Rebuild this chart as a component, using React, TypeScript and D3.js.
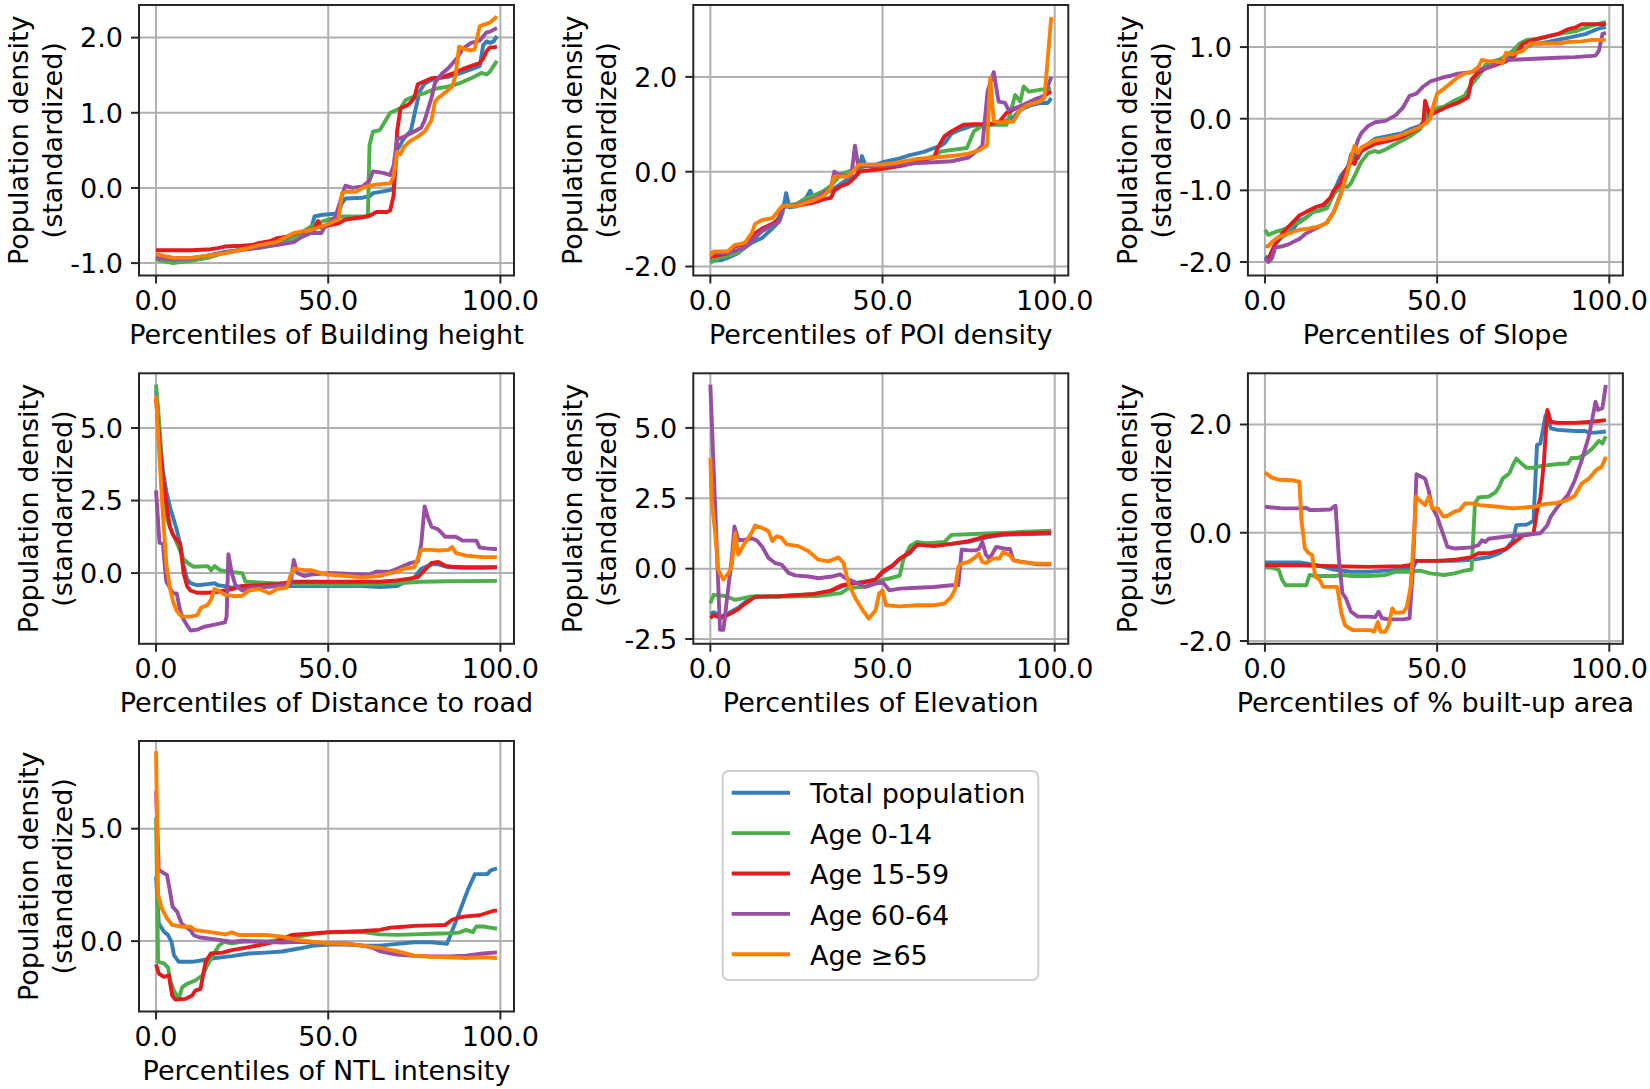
import { useEffect } from "react";
import * as d3 from "d3";

type Pt = [number, number];

const SERIES = ["Total population", "Age 0-14", "Age 15-59", "Age 60-64", "Age ≥65"];
const COLORS = ["#377eb8", "#4daf4a", "#e41a1c", "#984ea3", "#ff7f00"];
const X_TICKS = [0, 50, 100];

// Building height
const bhTotal: Pt[] = [[0,-0.93],[5,-0.96],[10,-0.94],[15,-0.9],[20,-0.85],[25,-0.82],[30,-0.78],[35,-0.72],[40,-0.65],[43,-0.6],[45,-0.55],[46,-0.38],[48,-0.36],[50,-0.35],[53,-0.34],[54,-0.2],[55,-0.14],[60,-0.13],[62,-0.11],[63,-0.07],[68,-0.03],[69,0.0],[70,0.5],[72,0.66],[74,0.76],[75,0.97],[76.5,1.28],[78,1.39],[81,1.46],[85,1.48],[88,1.52],[91,1.57],[94,1.62],[95,1.9],[96,1.95],[97,1.93],[98,1.95],[99,2.02]];
const bhAge014: Pt[] = [[0,-0.95],[5,-1.0],[10,-0.97],[15,-0.93],[20,-0.86],[25,-0.82],[30,-0.8],[35,-0.75],[38,-0.73],[40,-0.66],[45,-0.51],[48,-0.45],[50,-0.42],[54,-0.38],[61.5,-0.38],[62,0.57],[63,0.75],[65,0.77],[68,1.0],[71,1.06],[72.5,1.17],[75,1.22],[78,1.26],[81,1.32],[85,1.35],[88,1.39],[91.5,1.46],[94.5,1.53],[96,1.51],[97,1.55],[99,1.69]];
const bhAge1559: Pt[] = [[0,-0.83],[5,-0.83],[10,-0.83],[15,-0.82],[18,-0.8],[20,-0.78],[25,-0.77],[28,-0.76],[30,-0.73],[33,-0.71],[35,-0.67],[38,-0.65],[40,-0.61],[43,-0.58],[45,-0.55],[46,-0.55],[47,-0.44],[48,-0.53],[50,-0.5],[53,-0.47],[55,-0.42],[60,-0.39],[62,-0.37],[64,-0.32],[67,-0.32],[68,-0.3],[69,-0.1],[70,0.75],[71,1.06],[73,1.1],[74,1.14],[75,1.2],[76,1.38],[78,1.42],[80,1.46],[83,1.47],[86,1.52],[89,1.58],[92,1.63],[94,1.66],[95,1.72],[96,1.82],[97,1.87],[98,1.87],[99,1.88]];
const bhAge6064: Pt[] = [[0,-0.93],[5,-0.95],[10,-0.94],[15,-0.9],[20,-0.86],[30,-0.79],[35,-0.76],[40,-0.72],[42,-0.66],[45,-0.6],[48,-0.6],[49,-0.52],[50,-0.47],[52,-0.4],[54,-0.1],[55,0.03],[57,0.0],[60,0.02],[62,0.1],[63,0.22],[66,0.2],[68,0.17],[69,0.3],[70,0.65],[72,0.68],[75,0.75],[77,0.8],[78,0.9],[80,1.2],[81,1.4],[83,1.52],[85,1.6],[87.5,1.73],[89,1.85],[91.5,1.93],[94,1.96],[96,2.07],[97,2.08],[99,2.13]];
const bhAge65: Pt[] = [[0,-0.88],[5,-0.93],[10,-0.93],[15,-0.9],[20,-0.87],[25,-0.82],[30,-0.76],[35,-0.72],[38,-0.65],[40,-0.6],[45,-0.56],[50,-0.48],[53,-0.42],[54,-0.07],[55,-0.05],[58,-0.05],[60,0.0],[62,0.03],[65,0.05],[68,0.06],[69,0.15],[70,0.48],[71,0.45],[72,0.55],[74,0.63],[76,0.68],[78,0.75],[80,0.9],[81,1.15],[82,1.2],[84,1.27],[86,1.35],[87,1.5],[88,1.88],[89,1.86],[91,1.83],[92.5,1.84],[94,2.15],[95,2.17],[97,2.2],[99,2.28]];

// POI density
const poiTotal: Pt[] = [[0,-1.88],[3,-1.87],[5,-1.82],[8,-1.72],[10,-1.6],[12,-1.5],[15,-1.4],[18,-1.2],[20,-1.05],[21,-0.85],[22,-0.45],[23,-0.75],[25,-0.73],[27,-0.65],[29,-0.4],[30,-0.55],[33,-0.45],[35,-0.4],[38,-0.25],[40,-0.15],[42,-0.1],[43,-0.05],[44,0.33],[45,0.15],[48,0.15],[50,0.2],[55,0.28],[58,0.35],[62,0.42],[65,0.5],[67,0.55],[68,0.6],[70,0.8],[72,0.87],[74,0.92],[76,0.97],[78,0.98],[80,1.0],[82,1.0],[85,1.05],[88,1.15],[90,1.3],[93,1.4],[96,1.45],[98,1.45],[99,1.55]];
const poiAge014: Pt[] = [[0,-1.92],[3,-1.8],[5,-1.78],[8,-1.7],[10,-1.6],[13,-1.35],[15,-1.25],[18,-1.15],[20,-0.95],[21,-0.72],[25,-0.68],[28,-0.55],[30,-0.5],[33,-0.4],[35,-0.3],[38,-0.05],[40,0.0],[42,0.05],[45,0.12],[50,0.15],[55,0.18],[60,0.22],[65,0.33],[67,0.43],[74.5,0.5],[76.5,0.85],[78.5,0.95],[80.5,0.99],[86,0.99],[87,1.2],[88.5,1.62],[90,1.48],[91,1.8],[92.5,1.69],[96,1.73],[99,1.75]];
const poiAge1559: Pt[] = [[0,-1.8],[5,-1.72],[7,-1.58],[10,-1.52],[13,-1.3],[15,-1.2],[18,-1.1],[20,-1.0],[21,-0.72],[25,-0.72],[30,-0.65],[33,-0.58],[35,-0.55],[36,-0.4],[38,-0.3],[40,-0.25],[42,-0.12],[43,0.0],[45,0.02],[50,0.06],[55,0.12],[60,0.2],[65,0.3],[66,0.5],[68,0.75],[70,0.85],[73.5,0.99],[76.5,1.0],[81,1.0],[84,1.06],[86,1.24],[90,1.38],[94,1.48],[99,1.69]];
const poiAge6064: Pt[] = [[0,-1.71],[5,-1.72],[10,-1.6],[15,-1.25],[20,-1.05],[21,-0.75],[25,-0.7],[30,-0.58],[35,-0.35],[36,0.0],[37,-0.05],[40,-0.1],[41,-0.05],[42,0.55],[43,0.1],[45,0.12],[50,0.12],[55,0.15],[60,0.18],[65,0.2],[70,0.22],[75,0.3],[77.5,0.45],[79,0.55],[80.5,1.69],[82.3,2.1],[83.7,1.48],[85.6,1.45],[86.6,1.3],[90,1.38],[94,1.52],[97,1.6],[99,2.0]];
const poiAge65: Pt[] = [[0,-1.78],[1,-1.68],[5,-1.68],[7,-1.55],[10,-1.5],[12,-1.3],[13,-1.1],[15,-1.02],[18,-0.98],[20,-0.8],[21,-0.72],[25,-0.72],[30,-0.6],[33,-0.5],[35,-0.35],[36,-0.1],[40,-0.1],[42,0.05],[43,0.15],[50,0.15],[55,0.2],[60,0.27],[65,0.3],[70,0.33],[75,0.38],[78,0.45],[80.4,0.56],[81.3,1.99],[82.3,1.06],[84,1.04],[88,1.06],[90,1.3],[92,1.4],[95.5,1.48],[97,1.55],[98,2.4],[99,3.26]];

// Slope
const slTotal: Pt[] = [[0,-1.92],[1,-1.95],[2,-1.85],[3,-1.75],[5,-1.65],[8,-1.55],[10,-1.42],[12,-1.38],[14,-1.3],[16,-1.28],[18,-1.22],[20,-1.02],[22,-0.8],[24,-0.68],[25,-0.6],[26,-0.5],[27,-0.55],[28,-0.45],[30,-0.35],[32,-0.28],[35,-0.25],[38,-0.22],[40,-0.2],[42,-0.15],[45,-0.1],[46,-0.05],[48,0.08],[50,0.1],[52,0.15],[55,0.25],[58,0.3],[60,0.48],[62,0.6],[64,0.72],[65,0.78],[68,0.82],[70,0.85],[72,0.9],[75,0.98],[78,1.05],[80,1.05],[85,1.1],[90,1.15],[93,1.18],[95,1.22],[97,1.26],[99,1.28]];
const slAge014: Pt[] = [[0,-1.55],[1,-1.62],[3,-1.58],[5,-1.55],[7,-1.52],[8,-1.47],[10,-1.45],[12,-1.38],[14,-1.3],[16,-1.28],[18,-1.25],[20,-1.05],[22,-0.95],[24,-0.95],[25,-0.9],[26,-0.8],[28,-0.6],[30,-0.48],[32,-0.45],[33,-0.47],[35,-0.43],[38,-0.35],[40,-0.3],[42,-0.25],[45,-0.15],[46,-0.05],[47,0.1],[50,0.15],[52,0.17],[55,0.25],[58,0.32],[60,0.48],[62,0.6],[64,0.75],[66,0.8],[68,0.82],[70,0.88],[72,0.95],[74,1.05],[76,1.1],[80,1.12],[85,1.18],[90,1.22],[95,1.3],[99,1.35]];
const slAge1559: Pt[] = [[0,-1.95],[1,-1.97],[2,-1.85],[3,-1.75],[5,-1.6],[7,-1.5],[9,-1.4],[10,-1.35],[12,-1.3],[15,-1.23],[17,-1.2],[19,-1.1],[20,-1.0],[22,-0.9],[23,-0.75],[25,-0.6],[26,-0.63],[27,-0.5],[28,-0.45],[30,-0.4],[32,-0.35],[35,-0.32],[38,-0.28],[40,-0.25],[42,-0.2],[45,-0.12],[46,-0.05],[46.5,0.25],[47.5,0.1],[48,0.05],[50,0.1],[53,0.17],[56,0.22],[59,0.3],[60,0.55],[62,0.65],[64,0.7],[67,0.75],[70,0.8],[72,0.85],[75,1.05],[78,1.1],[82,1.15],[85,1.18],[88,1.25],[90,1.27],[92,1.32],[95,1.32],[99,1.32]];
const slAge6064: Pt[] = [[0,-1.95],[1,-2.0],[2,-1.95],[3,-1.8],[5,-1.78],[7,-1.75],[9,-1.7],[10,-1.68],[12,-1.6],[14,-1.55],[16,-1.5],[18,-1.45],[20,-1.3],[22,-1.05],[24,-0.7],[25,-0.5],[26,-0.45],[27,-0.3],[28,-0.2],[30,-0.1],[32,-0.05],[35,-0.03],[38,0.05],[40,0.15],[42,0.32],[44,0.35],[46,0.45],[48,0.52],[50,0.55],[52,0.58],[54,0.6],[56,0.63],[60,0.65],[62,0.68],[65,0.72],[68,0.8],[70,0.82],[75,0.83],[80,0.84],[85,0.85],[90,0.86],[96,0.88],[97,0.95],[98,1.18],[99,1.2]];
const slAge65: Pt[] = [[0,-1.78],[1,-1.78],[2,-1.72],[4,-1.65],[6,-1.62],[8,-1.58],[10,-1.55],[13,-1.53],[16,-1.5],[18,-1.45],[20,-1.3],[22,-1.05],[24,-0.75],[25,-0.55],[26,-0.38],[27,-0.48],[28,-0.4],[30,-0.35],[32,-0.3],[35,-0.28],[38,-0.25],[40,-0.22],[42,-0.18],[45,-0.12],[47,-0.05],[48,0.0],[49,0.2],[50,0.35],[52,0.42],[54,0.5],[56,0.58],[58,0.63],[60,0.65],[62,0.72],[63,0.82],[65,0.8],[67,0.8],[69,0.78],[70,0.92],[72,0.9],[75,0.95],[77,1.05],[80,1.05],[85,1.05],[88,1.07],[92,1.08],[95,1.1],[99,1.1]];

// Distance to road
const drTotal: Pt[] = [[0,6.3],[1,4.8],[2,3.5],[3,2.8],[4,2.3],[5,1.9],[6,1.5],[7,1.0],[8,0.3],[9,-0.2],[10,-0.35],[12,-0.42],[15,-0.38],[17,-0.35],[18,-0.42],[20,-0.45],[22,-0.5],[25,-0.45],[30,-0.4],[35,-0.45],[40,-0.45],[50,-0.45],[60,-0.45],[65,-0.48],[70,-0.45],[75,-0.15],[77,0.15],[80,0.3],[82,0.3],[85,0.2],[90,0.18],[95,0.18],[99,0.2]];
const drAge014: Pt[] = [[0,6.5],[1,5.05],[1.7,3.55],[3.3,1.83],[4.8,1.37],[6.3,0.97],[7.9,0.5],[9.4,0.33],[11,0.22],[15,0.24],[16,0.1],[17,0.24],[18.6,0.1],[21,0.05],[25,0.0],[26,-0.3],[31,-0.33],[40,-0.38],[50,-0.4],[60,-0.4],[70,-0.35],[77,-0.3],[85,-0.28],[99,-0.27]];
const drAge1559: Pt[] = [[0,6.0],[1,4.5],[2,3.3],[3,2.4],[4,1.6],[5,1.3],[6,1.15],[7,1.0],[8,0.0],[9,-0.45],[10,-0.6],[12,-0.68],[15,-0.68],[18,-0.65],[20,-0.6],[22,-0.55],[25,-0.45],[30,-0.42],[35,-0.38],[40,-0.3],[45,-0.3],[50,-0.3],[60,-0.3],[65,-0.3],[70,-0.25],[73,-0.2],[76,-0.15],[78,0.1],[80,0.35],[82,0.38],[84,0.25],[86,0.22],[90,0.2],[95,0.2],[99,0.2]];
const drAge6064: Pt[] = [[0,2.85],[1,1.05],[2,1.0],[2.5,0.3],[3,-0.3],[5,-0.7],[6,-0.7],[7,-1.3],[8,-1.6],[9,-1.8],[10,-1.98],[12,-1.95],[14,-1.85],[16,-1.8],[18,-1.75],[20,-1.7],[20.5,-1.5],[21,0.65],[22,0.0],[23,-0.4],[25,-0.6],[28,-0.5],[30,-0.5],[35,-0.45],[39,-0.4],[40,0.45],[41,0.0],[43,-0.1],[45,-0.05],[50,0.0],[55,-0.02],[60,-0.05],[62,-0.05],[64,0.05],[68,0.05],[70,0.15],[72,0.25],[74,0.35],[76,0.4],[77,1.0],[78,2.3],[79,1.9],[80,1.6],[82,1.5],[84,1.25],[87,1.25],[89,1.12],[93,1.12],[94,0.88],[96,0.85],[99,0.82]];
const drAge65: Pt[] = [[0,6.1],[1,4.0],[2,2.0],[3,0.3],[4,-0.5],[5,-1.0],[6,-1.3],[7,-1.45],[8,-1.5],[10,-1.5],[12,-1.45],[13,-1.2],[15,-1.1],[16,-0.9],[17,-0.55],[18,-0.6],[20,-0.75],[23,-0.8],[25,-0.78],[27,-0.6],[30,-0.55],[32,-0.65],[33,-0.7],[35,-0.55],[38,-0.5],[39,-0.1],[40,0.15],[43,0.1],[45,0.1],[48,0.0],[50,-0.05],[55,-0.1],[60,-0.15],[65,-0.1],[68,0.0],[70,0.05],[72,0.15],[75,0.2],[76,0.5],[77,0.8],[80,0.8],[82,0.78],[85,0.8],[86,0.9],[87,0.7],[90,0.6],[95,0.55],[99,0.55]];

// Elevation
const elTotal: Pt[] = [[0,-1.6],[1,-1.55],[3,-1.7],[5,-1.6],[8,-1.4],[10,-1.2],[13,-1.0],[20,-0.98],[30,-0.92],[35,-0.8],[38,-0.65],[40,-0.55],[45,-0.45],[48,-0.4],[50,-0.15],[53,0.1],[55,0.35],[58,0.55],[60,0.85],[62,0.9],[65,0.85],[70,0.88],[75,0.95],[80,1.1],[85,1.2],[90,1.22],[99,1.25]];
const elAge014: Pt[] = [[0,-1.23],[1,-0.93],[4.3,-0.97],[7.2,-1.11],[12,-0.99],[22,-0.99],[31,-0.97],[38,-0.87],[40,-0.7],[45,-0.64],[48,-0.47],[50,-0.4],[52,-0.35],[55,-0.25],[56,0.3],[58,0.8],[60,0.95],[63,0.9],[68,0.95],[70,1.2],[75,1.22],[80,1.25],[85,1.27],[90,1.3],[99,1.35]];
const elAge1559: Pt[] = [[0,-1.75],[1,-1.65],[3,-1.75],[5,-1.65],[8,-1.45],[10,-1.25],[13,-1.0],[20,-0.98],[30,-0.9],[35,-0.78],[38,-0.6],[40,-0.55],[45,-0.48],[48,-0.38],[50,-0.1],[53,0.12],[55,0.35],[58,0.6],[60,0.85],[65,0.8],[70,0.88],[75,0.98],[80,1.15],[85,1.22],[90,1.25],[99,1.28]];
const elAge6064: Pt[] = [[0,6.54],[1.4,2.2],[2.8,-2.17],[3.8,-2.17],[4.8,-1.11],[6.2,0.32],[7,1.5],[8.1,1.02],[10,1.02],[12,1.08],[13.5,1.0],[15,0.79],[16.9,0.38],[18.8,0.2],[20.7,0.14],[22.7,-0.15],[24.6,-0.24],[28.5,-0.28],[31.4,-0.34],[35.3,-0.28],[37.7,-0.2],[39.2,-0.34],[42,-0.48],[45,-0.65],[48,-0.53],[50,-0.47],[52,-0.77],[55,-0.71],[60,-0.68],[65,-0.65],[70,-0.59],[72,-0.59],[73,0.68],[75,0.65],[77,0.65],[78,0.7],[79,0.95],[80,0.5],[81,0.35],[82,0.55],[83,0.77],[86,0.7],[87,0.7],[88,0.3],[90,0.25],[95,0.15],[99,0.15]];
const elAge65: Pt[] = [[0,3.93],[0.4,2.45],[1.4,1.27],[2.3,-0.04],[3.8,-0.39],[5.3,-0.15],[6.2,0.08],[7.2,1.27],[8.1,0.5],[10,0.91],[12,1.27],[13,1.53],[15,1.45],[16.9,1.33],[18,0.98],[19.3,1.15],[20.7,1.09],[22.2,0.86],[25.6,0.8],[28.5,0.62],[31.4,0.32],[34.3,0.26],[37.2,0.4],[38.7,0.2],[40.1,-0.51],[42.1,-1.05],[44.5,-1.52],[46,-1.78],[48,-1.48],[49,-0.89],[50,-0.77],[51,-1.3],[55,-1.34],[60,-1.3],[65,-1.3],[68,-1.24],[70,-1.0],[71,-0.75],[72,0.06],[73,0.18],[75,0.24],[77,0.41],[78,0.53],[79,0.24],[80,0.2],[82,0.36],[84,0.36],[85,0.59],[87,0.47],[88,0.3],[90,0.24],[95,0.18],[99,0.18]];

// % built-up area
const buTotal: Pt[] = [[0,-0.55],[10,-0.55],[15,-0.6],[20,-0.68],[25,-0.72],[30,-0.72],[35,-0.7],[40,-0.68],[43,-0.65],[44,-0.52],[50,-0.52],[55,-0.52],[60,-0.5],[62,-0.48],[65,-0.45],[68,-0.38],[70,-0.3],[72,-0.15],[73,0.14],[76,0.15],[78,0.22],[79,1.62],[80,1.65],[81.5,2.17],[82,2.15],[83,1.93],[85,1.9],[90,1.88],[93,1.88],[94,1.85],[96,1.85],[99,1.87]];
const buAge014: Pt[] = [[0,-0.64],[2,-0.65],[4,-0.68],[5,-0.87],[6,-0.97],[10,-0.97],[12,-0.97],[13,-0.78],[15,-0.8],[20,-0.8],[23,-0.78],[25,-0.8],[30,-0.8],[35,-0.78],[38,-0.72],[42,-0.72],[45,-0.7],[48,-0.75],[52,-0.78],[55,-0.75],[58,-0.7],[60,-0.68],[61,0.54],[62,0.65],[65,0.67],[67,0.75],[68,0.85],[69,1.0],[71,1.1],[72,1.25],[73,1.37],[75,1.25],[76,1.2],[78,1.2],[80,1.23],[85,1.27],[88,1.28],[89,1.38],[91,1.38],[93,1.45],[95,1.55],[97,1.7],[98,1.65],[99,1.78]];
const buAge1559: Pt[] = [[0,-0.6],[10,-0.6],[20,-0.62],[30,-0.63],[40,-0.62],[42,-0.6],[44,-0.52],[50,-0.52],[55,-0.5],[60,-0.45],[62,-0.38],[65,-0.38],[70,-0.3],[72,-0.2],[75,-0.05],[78,-0.02],[79,0.4],[80,0.65],[81,1.3],[82,2.27],[83,2.05],[85,2.03],[90,2.03],[95,2.05],[99,2.08]];
const buAge6064: Pt[] = [[0,0.48],[5,0.45],[10,0.45],[12,0.46],[13,0.42],[15,0.42],[19,0.43],[20,0.48],[20.5,0.5],[21.5,-0.5],[22.5,-1.12],[23.5,-1.21],[25,-1.46],[27,-1.55],[30,-1.55],[32,-1.56],[33,-1.46],[34,-1.58],[36,-1.6],[40,-1.6],[42,-1.58],[43,-0.63],[44,1.08],[45,1.05],[46.5,1.0],[47.5,0.79],[48.5,0.48],[50,0.3],[51,0.11],[52,-0.07],[53,-0.26],[55,-0.29],[60,-0.27],[62,-0.23],[63,-0.14],[64,-0.17],[65,-0.11],[70,-0.07],[75,-0.04],[80,-0.01],[82,0.14],[83,0.3],[85,0.48],[88,0.7],[90,0.97],[92,1.34],[94,1.77],[95,2.08],[96,2.42],[96.7,2.27],[98,2.3],[99,2.73]];
const buAge65: Pt[] = [[0,1.11],[2,1.02],[4,0.98],[8,0.97],[10,0.94],[10.6,0.23],[11.6,-0.29],[12.7,-0.38],[13.7,-0.41],[14.6,-0.81],[15.9,-0.87],[16.9,-1.0],[21,-1.0],[22.2,-1.49],[23.3,-1.71],[25.4,-1.8],[30.7,-1.8],[31.7,-1.83],[32.8,-1.65],[33.6,-1.83],[34.9,-1.83],[35.9,-1.71],[37,-1.4],[38,-1.48],[40.2,-1.47],[41.2,-1.37],[42.3,-1.0],[43.3,-0.01],[43.9,0.67],[44.9,0.6],[46.5,0.51],[47.6,0.67],[48.6,0.45],[50.2,0.45],[51.8,0.3],[52.9,0.31],[55,0.39],[56.6,0.42],[58.1,0.54],[60.3,0.54],[62.4,0.51],[67.7,0.48],[71.9,0.45],[78.2,0.48],[81.4,0.53],[84.6,0.55],[87.7,0.6],[89.9,0.68],[92,0.91],[94.1,1.0],[96.2,1.16],[97.8,1.22],[99,1.4]];

// NTL intensity
const ntlTotal: Pt[] = [[0,2.87],[0.8,0.79],[2.3,0.42],[3.5,0.27],[4.5,-0.03],[5.2,-0.62],[6.6,-0.92],[10.5,-0.92],[13.4,-0.85],[17.2,-0.75],[22,-0.67],[26.9,-0.55],[31.8,-0.51],[36.6,-0.46],[41.5,-0.33],[45.3,-0.21],[50,-0.15],[55,-0.15],[60,-0.2],[65,-0.2],[70,-0.12],[75,-0.05],[80,-0.05],[84.5,-0.12],[87.5,1.04],[90.6,2.3],[92.6,2.98],[96.2,2.98],[97.2,3.15],[99,3.23]];
const ntlAge014: Pt[] = [[0,5.5],[0.6,-0.92],[2.3,-0.99],[3.5,-1.18],[4.2,-1.8],[5.2,-2.2],[6.6,-2.57],[7.6,-2.05],[9,-1.9],[11.4,-1.75],[13.4,-1.53],[14.9,-1.08],[16.8,-0.56],[18.3,-0.19],[19.7,-0.03],[22,-0.1],[25,-0.03],[31.8,-0.02],[37.6,0.1],[41.5,0.2],[45.3,0.31],[50,0.38],[55,0.4],[60,0.4],[65,0.3],[70,0.28],[75,0.3],[80,0.33],[85,0.35],[88,0.38],[90,0.5],[92,0.4],[93,0.65],[95,0.65],[97,0.6],[99,0.55]];
const ntlAge1559: Pt[] = [[0,-1.04],[0.8,-1.44],[2.3,-1.59],[3.7,-1.52],[4.7,-2.42],[5.6,-2.6],[8.5,-2.57],[10.5,-2.42],[11.4,-2.2],[12.9,-2.12],[14.4,-0.92],[15.9,-0.55],[19.3,-0.51],[22,-0.4],[25.8,-0.3],[29.7,-0.19],[34.5,-0.03],[39.4,0.27],[45.3,0.34],[50,0.4],[55,0.42],[60,0.45],[65,0.5],[68,0.6],[70,0.62],[75,0.68],[80,0.7],[84,0.72],[86,0.95],[88,1.05],[90,1.1],[94,1.15],[96,1.25],[98,1.35],[99,1.35]];
const ntlAge6064: Pt[] = [[0,6.67],[0.8,3.17],[2.3,3.02],[3.2,2.94],[3.9,2.35],[4.8,1.53],[6.1,1.31],[7.4,0.79],[8.5,0.64],[10,0.49],[10.9,0.27],[12.4,0.17],[17.2,0.08],[22,-0.03],[25,0.02],[31.8,-0.03],[36.6,-0.06],[41.5,-0.03],[50,-0.1],[55,-0.1],[60,-0.2],[63,-0.3],[65,-0.45],[70,-0.6],[75,-0.65],[80,-0.68],[85,-0.68],[90,-0.65],[95,-0.55],[99,-0.5]];
const ntlAge65: Pt[] = [[0,8.45],[0.6,2.05],[1.7,1.45],[3.2,1.01],[4.7,0.72],[7.6,0.64],[10,0.64],[11.4,0.49],[15.3,0.41],[20.2,0.3],[22,0.39],[24,0.27],[31.8,0.27],[36.6,0.2],[41.5,0.04],[45.3,-0.03],[50,-0.1],[55,-0.12],[60,-0.2],[65,-0.3],[70,-0.45],[75,-0.65],[80,-0.7],[85,-0.72],[90,-0.75],[95,-0.72],[99,-0.75]];

const LABELS = [
  "Building height",
  "POI density",
  "Slope",
  "Distance to road",
  "Elevation",
  "% built-up area",
  "NTL intensity",
];
const Y_TICKS = [
  [-1, 0, 1, 2],
  [-2, 0, 2],
  [-2, -1, 0, 1],
  [0, 2.5, 5],
  [-2.5, 0, 2.5, 5],
  [-2, 0, 2],
  [0, 5],
];
const Y_LIMITS: Pt[] = [
  [-1.165, 2.434],
  [-2.189, 3.516],
  [-2.188, 1.587],
  [-2.438, 6.886],
  [-2.67, 6.94],
  [-2.052, 2.946],
  [-3.13, 8.9],
];
const DATA: Pt[][][] = [
  [bhTotal, bhAge014, bhAge1559, bhAge6064, bhAge65],
  [poiTotal, poiAge014, poiAge1559, poiAge6064, poiAge65],
  [slTotal, slAge014, slAge1559, slAge6064, slAge65],
  [drTotal, drAge014, drAge1559, drAge6064, drAge65],
  [elTotal, elAge014, elAge1559, elAge6064, elAge65],
  [buTotal, buAge014, buAge1559, buAge6064, buAge65],
  [ntlTotal, ntlAge014, ntlAge1559, ntlAge6064, ntlAge65],
];

const W = 1650;
const H = 1089;
const FONT = "'DejaVu Sans', sans-serif";
const FS = 27;
const LW = 3.9;
const COL_LEFT = [139, 693.3, 1247.9];
const ROW_TOP = [5, 373.3, 741];
const AX_W = 375;
const AX_H = 270.5;

// matplotlib-style labels use a plain hyphen for negatives
const fmt = (v: number) => d3.format(".1f")(v).replace("\u2212", "-");
const charW: Record<string, number> = { "-": 0.361, ".": 0.318 };
const textW = (s: string) =>
  s.split("").reduce((a, c) => a + (charW[c] ?? 0.636), 0) * FS;

function Panel({ idx }: { idx: number }) {
  const left = COL_LEFT[idx % 3];
  const top = ROW_TOP[Math.floor(idx / 3)];
  const right = left + AX_W;
  const bottom = top + AX_H;
  const x = d3.scaleLinear().domain([-4.95, 103.95]).range([left, right]);
  const y = d3.scaleLinear().domain(Y_LIMITS[idx]).range([bottom, top]);
  const line = d3
    .line<Pt>()
    .x((d) => x(d[0]))
    .y((d) => y(d[1]));
  const ticks = Y_TICKS[idx];
  const maxW = d3.max(ticks, (t) => textW(fmt(t))) ?? 0;
  const lab2 = left - 16 - maxW - 8.3;
  const lab1 = lab2 - 34;
  const cy = (top + bottom) / 2;
  const clipId = `clip-${idx}`;

  return (
    <g>
      <clipPath id={clipId}>
        <rect x={left} y={top} width={AX_W} height={AX_H} />
      </clipPath>
      {X_TICKS.map((t) => (
        <line key={`gx${t}`} x1={x(t)} x2={x(t)} y1={top} y2={bottom} stroke="#b0b0b0" strokeWidth={2} />
      ))}
      {ticks.map((t) => (
        <line key={`gy${t}`} x1={left} x2={right} y1={y(t)} y2={y(t)} stroke="#b0b0b0" strokeWidth={2} />
      ))}
      <g clipPath={`url(#${clipId})`}>
        {DATA[idx].map((s, i) => (
          <path
            key={i}
            d={line(s) ?? ""}
            fill="none"
            stroke={COLORS[i]}
            strokeWidth={LW}
            strokeLinejoin="round"
          />
        ))}
      </g>
      <rect x={left} y={top} width={AX_W} height={AX_H} fill="none" stroke="#262626" strokeWidth={2} />
      {X_TICKS.map((t) => (
        <g key={`tx${t}`}>
          <line x1={x(t)} x2={x(t)} y1={bottom} y2={bottom + 8} stroke="#262626" strokeWidth={2} />
          <text x={x(t)} y={bottom + 34} textAnchor="middle">{fmt(t)}</text>
        </g>
      ))}
      {ticks.map((t) => (
        <g key={`ty${t}`}>
          <line x1={left - 8} x2={left} y1={y(t)} y2={y(t)} stroke="#262626" strokeWidth={2} />
          <text x={left - 16} y={y(t) + 9.8} textAnchor="end">{fmt(t)}</text>
        </g>
      ))}
      <text x={(left + right) / 2} y={bottom + 68} textAnchor="middle">
        {`Percentiles of ${LABELS[idx]}`}
      </text>
      <text transform={`translate(${lab1},${cy}) rotate(-90)`} textAnchor="middle">
        Population density
      </text>
      <text transform={`translate(${lab2},${cy}) rotate(-90)`} textAnchor="middle">
        (standardized)
      </text>
    </g>
  );
}

function Legend() {
  const lx = 722.7;
  const ly = 771;
  const row0 = 792.7;
  const step = 40.4;
  return (
    <g>
      <rect x={lx} y={ly} width={315.6} height={209} rx={6} fill="white" stroke="#d0d0d0" strokeWidth={2} />
      {SERIES.map((s, i) => (
        <g key={s}>
          <line x1={731.7} x2={790} y1={row0 + i * step} y2={row0 + i * step} stroke={COLORS[i]} strokeWidth={LW} />
          <text x={810} y={row0 + i * step + 10.6}>{s}</text>
        </g>
      ))}
    </g>
  );
}

export default function App() {
  useEffect(() => {
    document.body.style.margin = "0";
  }, []);
  return (
    <svg
      width={W}
      height={H}
      viewBox={`0 0 ${W} ${H}`}
      style={{ display: "block", background: "white" }}
      fontFamily={FONT}
      fontSize={FS}
      fill="#000"
    >
      <rect width={W} height={H} fill="white" />
      {LABELS.map((_, i) => (
        <Panel key={i} idx={i} />
      ))}
      <Legend />
    </svg>
  );
}
